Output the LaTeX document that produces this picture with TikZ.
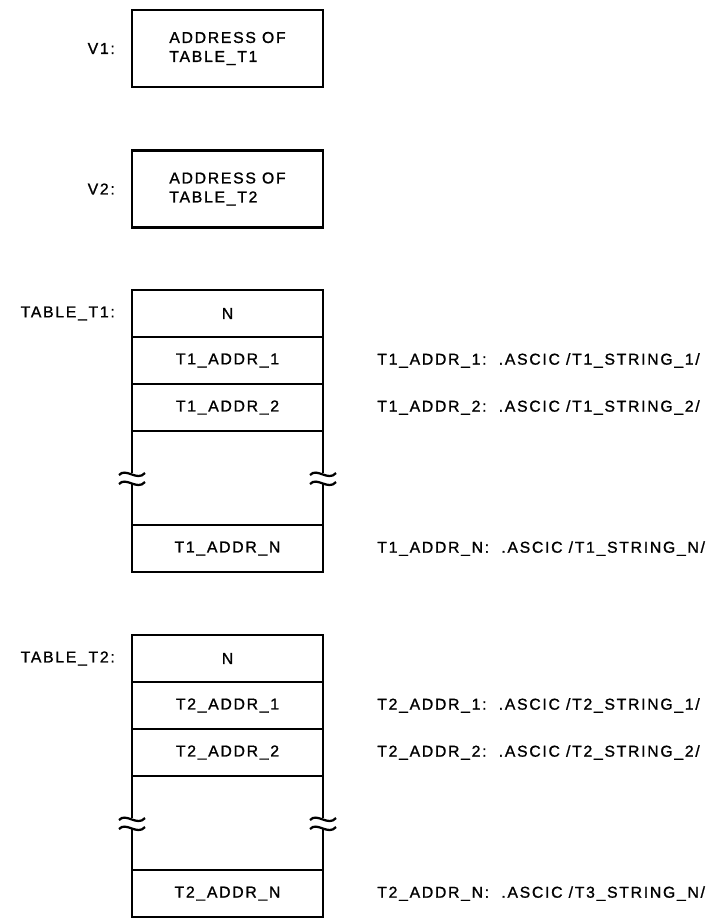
\documentclass[tikz,border=0pt]{standalone}
\usepackage{fontspec}
\setmainfont{Liberation Sans}[LetterSpace=11,FakeBold=1.2]
\usepackage{tikz}
\usetikzlibrary{positioning}

\begin{document}
\begin{tikzpicture}[
  x=0.025cm, y=-0.025cm,
  every node/.style={font=\fontsize{11.2}{13.5}\selectfont},
  var/.style={draw,line width=1.8pt,minimum width=4.775cm,minimum height=1.925cm,align=left,outer sep=0pt},
  cell/.style={draw,line width=1.8pt,minimum width=4.775cm,minimum height=1.175cm,outer sep=0pt},
  gap/.style={cell,minimum height=2.35cm},
  lbl/.style={inner sep=0pt},
  brk/.pic={
    \fill[white] (-4,-5) rectangle (4,5);
    \draw[line width=1.6pt] (-13,-3) .. controls (-6,-11) and (5,4) .. (13,-5);
    \draw[line width=1.6pt] (-13,6) .. controls (-6,-2) and (5,13) .. (13,4);
  }
]
  \useasboundingbox (0,0) rectangle (709,920);
  % variables
  \node[var] (v1) at (227.5,48.5) {ADDRESS OF\\TABLE\_T1};
  \node[var] (v2) at (227.5,189) {ADDRESS OF\\TABLE\_T2};
  \node[lbl,left=12pt of v1] (v1lbl) {V1:};
  \node[lbl,left=12pt of v2] (v2lbl) {V2:};
  % first table
  \node[cell] (t1n) at (227.5,313.5) {N};
  \node[cell,below=0pt of t1n] (t1a1) {T1\_ADDR\_1};
  \node[cell,below=0pt of t1a1] (t1a2) {T1\_ADDR\_2};
  \node[gap,below=0pt of t1a2] (t1gap) {};
  \node[cell,below=0pt of t1gap] (t1an) {T1\_ADDR\_N};
  \node[lbl,left=12pt of t1n] (t1lbl) {TABLE\_T1:};
  \node[lbl,right=1.35cm of t1a1] (s11) {T1\_ADDR\_1:\ \ .ASCIC /T1\_STRING\_1/};
  \node[lbl,right=1.35cm of t1a2] (s12) {T1\_ADDR\_2:\ \ .ASCIC /T1\_STRING\_2/};
  \node[lbl,right=1.35cm of t1an] (s1n) {T1\_ADDR\_N:\ \ .ASCIC /T1\_STRING\_N/};
  % second table
  \node[cell] (t2n) at (227.5,658.5) {N};
  \node[cell,below=0pt of t2n] (t2a1) {T2\_ADDR\_1};
  \node[cell,below=0pt of t2a1] (t2a2) {T2\_ADDR\_2};
  \node[gap,below=0pt of t2a2] (t2gap) {};
  \node[cell,below=0pt of t2gap] (t2an) {T2\_ADDR\_N};
  \node[lbl,left=12pt of t2n] (t2lbl) {TABLE\_T2:};
  \node[lbl,right=1.35cm of t2a1] (s21) {T2\_ADDR\_1:\ \ .ASCIC /T2\_STRING\_1/};
  \node[lbl,right=1.35cm of t2a2] (s22) {T2\_ADDR\_2:\ \ .ASCIC /T2\_STRING\_2/};
  \node[lbl,right=1.35cm of t2an] (s2n) {T2\_ADDR\_N:\ \ .ASCIC /T3\_STRING\_N/};
  % break marks
  \foreach \p in {t1gap.west,t1gap.east,t2gap.west,t2gap.east}
    \pic at (\p) {brk};
\end{tikzpicture}
\end{document}
